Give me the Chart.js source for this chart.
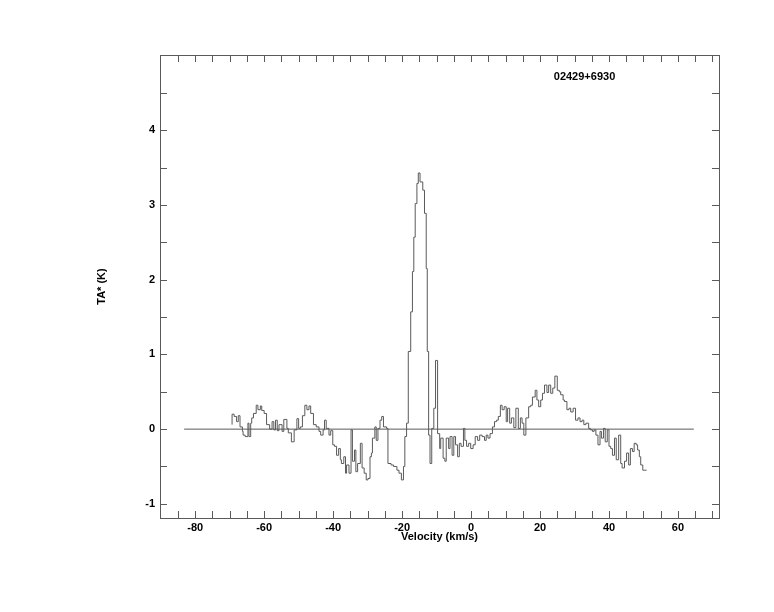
<!DOCTYPE html>
<html>
<head>
<meta charset="utf-8">
<script src="https://cdn.jsdelivr.net/npm/chart.js@4"></script>
<style>
    body { margin: 0; background: #fff; }
    canvas { display: block; }
</style>
</head>
<body>
<canvas id="spectrumChart" width="774" height="612"></canvas>
<script>
// --- DATA ---

// channel start velocities (km/s) and antenna temperature TA* (K)
const velocity = [
    -69.3, -68.7, -68.0, -67.5, -67.0, -66.3, -66.1, -65.5, -64.7, -64.4,
    -63.9, -63.6, -63.1, -62.3, -61.8, -61.1, -60.7, -60.0, -59.3, -58.4,
    -57.7, -57.2, -56.7, -56.2, -55.7, -54.8, -54.3, -53.4, -53.0, -52.1,
    -51.3, -50.5, -50.0, -49.5, -48.9, -48.2, -47.6, -47.0, -46.5, -45.7,
    -44.9, -44.1, -43.6, -42.9, -42.5, -42.0, -41.2, -40.7, -40.1, -39.6,
    -39.0, -38.4, -37.9, -37.6, -36.9, -36.4, -36.1, -35.4, -34.8, -34.4,
    -33.8, -33.4, -32.9, -32.1, -31.6, -31.0, -30.4, -29.9, -29.3, -28.9,
    -28.6, -27.9, -27.5, -27.0, -26.4, -25.9, -25.4, -24.5, -24.1, -23.2,
    -22.5, -21.5, -20.9, -20.2, -19.6, -19.2, -18.7, -18.2, -17.5, -17.0,
    -16.6, -16.2, -15.7, -15.3, -14.8, -14.0, -13.5, -13.0, -12.7, -12.3,
    -11.9, -11.4, -10.8, -10.3, -9.7, -9.1, -8.8, -8.1, -7.6, -7.2,
    -6.5, -6.1, -5.5, -5.0, -4.5, -3.9, -3.4, -2.9, -2.2, -1.8,
    -1.3, -0.7, -0.1, 0.6, 1.2, 1.9, 2.5, 3.2, 3.9, 4.4,
    4.9, 5.5, 6.2, 6.8, 7.4, 7.9, 8.5, 9.0, 9.6, 10.2,
    10.6, 11.2, 11.7, 12.4, 13.0, 13.7, 14.3, 14.8, 15.3, 15.9,
    16.7, 17.3, 17.8, 18.6, 19.1, 19.6, 20.2, 20.7, 21.3, 22.0,
    22.5, 23.1, 23.7, 24.3, 25.0, 25.6, 26.0, 26.7, 27.1, 27.8,
    28.4, 28.9, 29.6, 30.3, 31.0, 31.6, 32.2, 32.7, 33.3, 34.1,
    34.6, 35.2, 35.7, 36.2, 36.8, 37.4, 37.8, 38.4, 38.9, 39.5,
    40.0, 40.5, 41.0, 41.6, 42.1, 42.8, 43.4, 43.8, 44.5, 45.1,
    45.7, 46.2, 46.8, 47.3, 47.9, 48.3, 48.8, 49.2, 49.8, 50.4,
    50.9
];
const antennaTemp = [
    0.06, 0.20, 0.17, 0.10, 0.18, 0.03, -0.03, -0.08, -0.10, 0.08,
    -0.10, 0.08, 0.15, 0.21, 0.32, 0.26, 0.31, 0.25, 0.21, 0.06,
    0.00, 0.10, -0.01, 0.12, -0.02, 0.06, -0.03, 0.13, 0.01, -0.05,
    -0.17, -0.01, 0.14, 0.01, 0.03, 0.18, 0.32, 0.26, 0.31, 0.21,
    0.06, 0.03, -0.03, -0.08, -0.01, 0.12, 0.01, -0.08, -0.02, -0.21,
    -0.23, -0.35, -0.26, -0.41, -0.46, -0.37, -0.59, -0.48, -0.59, -0.01,
    -0.43, -0.28, -0.57, -0.46, -0.19, -0.52, -0.59, -0.68, -0.66, -0.37,
    -0.32, -0.12, 0.03, -0.15, 0.01, 0.12, 0.17, 0.03, 0.01, -0.46,
    -0.48, -0.50, -0.55, -0.59, -0.68, -0.50, -0.10, 0.08, 1.04, 1.57,
    2.11, 2.57, 3.02, 3.29, 3.43, 3.31, 3.20, 2.89, 2.15, 1.04,
    -0.08, -0.46, 0.01, 0.28, 0.92, -0.06, -0.26, -0.12, -0.39, -0.43,
    -0.12, -0.26, -0.10, -0.35, -0.10, -0.21, -0.37, -0.19, -0.23, 0.01,
    -0.15, -0.23, -0.19, -0.26, -0.21, -0.10, -0.15, -0.08, -0.10, -0.15,
    -0.08, -0.12, -0.06, 0.03, 0.10, 0.12, 0.17, 0.32, 0.26, 0.30,
    0.10, 0.28, 0.08, 0.15, 0.02, 0.28, 0.01, 0.15, 0.08, -0.08,
    0.15, 0.30, 0.32, 0.43, 0.52, 0.39, 0.30, 0.39, 0.48, 0.59,
    0.49, 0.59, 0.48, 0.55, 0.71, 0.52, 0.50, 0.46, 0.39, 0.37,
    0.26, 0.28, 0.23, 0.28, 0.12, 0.15, 0.10, 0.12, 0.06, 0.08,
    0.01, -0.01, -0.03, -0.01, -0.08, -0.21, -0.03, -0.12, 0.01, -0.17,
    -0.01, -0.23, -0.26, -0.35, -0.12, -0.41, -0.08, -0.46, -0.52, -0.43,
    -0.32, -0.48, -0.26, -0.30, -0.19, -0.21, -0.28, -0.37, -0.48, -0.55,
    -0.55
];

// zero baseline drawn across the plot
const baselineX = [-83.2, 64.6];
const baselineY = [0, 0];

// labelled ticks
const xTickLabels = [-80, -60, -40, -20, 0, 20, 40, 60];
const yTickLabels = [-1, 0, 1, 2, 3, 4];

const sourceName = '02429+6930';

// --- CHART ---

const LINE_COLOR = '#5a5a5a';
const TEXT_FONT = 'bold 11px "Liberation Sans", Arial, sans-serif';

// frame, inward tick marks and texts
const framePlugin = {
    id: 'framePlugin',
    afterDraw(chart) {
        const { ctx, chartArea: a, scales: { x, y } } = chart;
        const len = 7;
        ctx.save();
        ctx.strokeStyle = LINE_COLOR;
        ctx.lineWidth = 1;
        ctx.strokeRect(Math.round(a.left) + 0.5, Math.round(a.top) + 0.5,
            Math.round(a.right - a.left), Math.round(a.bottom - a.top));
        ctx.beginPath();
        for (let v = -85; v <= 70; v += 5) {
            const px = Math.round(x.getPixelForValue(v)) + 0.5;
            ctx.moveTo(px, a.top); ctx.lineTo(px, a.top + len);
            ctx.moveTo(px, a.bottom); ctx.lineTo(px, a.bottom - len);
        }
        for (let v = -1; v <= 4.5; v += 0.5) {
            const py = Math.round(y.getPixelForValue(v)) + 0.5;
            ctx.moveTo(a.left, py); ctx.lineTo(a.left + len, py);
            ctx.moveTo(a.right, py); ctx.lineTo(a.right - len, py);
        }
        ctx.stroke();

        ctx.fillStyle = '#000';
        ctx.font = TEXT_FONT;
        ctx.textAlign = 'center';
        ctx.textBaseline = 'middle';
        ctx.fillText('Velocity (km/s)', (a.left + a.right) / 2, a.bottom + 19);
        ctx.fillText(sourceName, x.getPixelForValue(32.9), y.getPixelForValue(4.72));

        ctx.translate(102, (a.top + a.bottom) / 2);
        ctx.rotate(-Math.PI / 2);
        ctx.fillText('TA* (K)', 0, 0);
        ctx.restore();
    }
};

const ctx = document.getElementById('spectrumChart').getContext('2d');
new Chart(ctx, {
    type: 'line',
    data: {
        datasets: [
            {
                label: 'spectrum',
                data: velocity.map((v, i) => ({ x: v, y: antennaTemp[i] })),
                stepped: 'after',
                borderColor: LINE_COLOR,
                borderWidth: 1,
                pointRadius: 0,
                fill: false
            },
            {
                label: 'baseline',
                data: baselineX.map((v, i) => ({ x: v, y: baselineY[i] })),
                borderColor: LINE_COLOR,
                borderWidth: 1,
                pointRadius: 0,
                fill: false
            }
        ]
    },
    options: {
        responsive: false,
        animation: false,
        layout: { padding: { top: 55, right: 55, left: 0, bottom: 0 } },
        plugins: {
            legend: { display: false },
            tooltip: { enabled: false }
        },
        scales: {
            x: {
                type: 'linear',
                min: -90.2,
                max: 71.9,
                grid: { display: false, drawTicks: false },
                border: { display: false },
                afterFit: s => { s.height = 94; },
                afterBuildTicks: s => { s.ticks = xTickLabels.map(v => ({ value: v })); },
                ticks: {
                    color: '#000',
                    padding: 3,
                    maxRotation: 0,
                    font: { family: '"Liberation Sans", Arial, sans-serif', size: 11, weight: 'bold' }
                }
            },
            y: {
                type: 'linear',
                min: -1.19,
                max: 5.01,
                grid: { display: false, drawTicks: false },
                border: { display: false },
                afterFit: s => { s.width = 160; },
                afterBuildTicks: s => { s.ticks = yTickLabels.map(v => ({ value: v })); },
                ticks: {
                    color: '#000',
                    padding: 5,
                    font: { family: '"Liberation Sans", Arial, sans-serif', size: 11, weight: 'bold' }
                }
            }
        }
    },
    plugins: [framePlugin]
});
</script>
</body>
</html>
